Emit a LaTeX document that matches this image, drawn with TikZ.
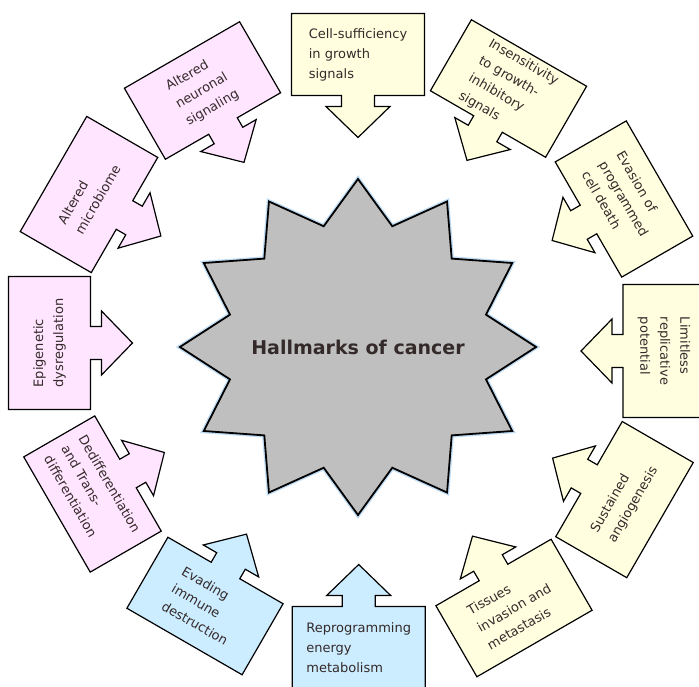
\documentclass[tikz,border=0pt]{standalone}
\usepackage{fontspec}
\setmainfont{DejaVu Sans}
\usepackage{tikz}
\definecolor{cellyellow}{RGB}{255,255,224}
\definecolor{cellpink}{RGB}{255,229,255}
\definecolor{cellblue}{RGB}{204,236,255}
\definecolor{inktext}{RGB}{52,42,42}
\definecolor{glowblue}{RGB}{190,220,245}
\tikzset{
  box line/.style={draw=black, line width=1.2pt, line join=miter},
  label text/.style={align=left, text=inktext, inner sep=0pt, font=\fontsize{13}{20}\selectfont},
  star line/.style={fill=gray!50, draw=black, line width=1.8pt, line join=miter,
                    preaction={draw=glowblue, line width=4.5pt}}
}
% #1 name, #2 centre, #3 turn of the box, #4 fill, #5 turn of the text, #6 text
\newcommand{\hallmark}[6]{%
  \begin{scope}[shift={#2}, rotate=#3]
    \filldraw[fill=#4, box line] (-66.5,41) -- (66.5,41) -- (66.5,-41) -- (16.5,-41) -- (16.5,-52) -- (32,-52) -- (0,-83) -- (-32,-52) -- (-16.5,-52) -- (-16.5,-41) -- (-66.5,-41) -- cycle;
  \end{scope}
  \node[label text, rotate=#5] (#1) at #2 {#6};
}

\begin{document}
\begin{tikzpicture}[x=1pt, y=1pt]
    \fill[white] (-358,-339) rectangle (341,347);
    \useasboundingbox (-358,-339) rectangle (341,347);
    % centre
    \path[star line, xscale=1.06] (90:168) \foreach \k in {0,...,11} { -- ({105+30*\k}:125) -- ({120+30*\k}:168) } -- cycle;
    \node[text=inktext, font=\fontsize{19}{23}\selectfont\bfseries] (hallmarks) at (0,0) {Hallmarks of cancer};
    % upper right
    \hallmark{growth}{(0,292.5)}{0}{cellyellow}{0}{Cell-sufficiency\\in growth\\signals}
    \hallmark{insens}{(150.5,258.5)}{-30}{cellyellow}{-30}{Insensitivity\\to growth-\\inhibitory\\signals}
    \hallmark{apoptosis}{(266,148)}{-60}{cellyellow}{-60}{Evasion of\\programmed\\cell death}
    \hallmark{replic}{(306,-4)}{-90}{cellyellow}{-90}{Limitless\\replicative\\potential}
    % lower right
    \hallmark{angio}{(266.5,-152.6)}{-120}{cellyellow}{60}{Sustained\\angiogenesis}
    \hallmark{invasion}{(156,-261)}{-150}{cellyellow}{30}{Tissues\\invasion and\\metastasis}
    % lower left
    \hallmark{energy}{(0.7,-300.5)}{180}{cellblue}{0}{Reprogramming\\energy\\metabolism}
    \hallmark{immune}{(-153,-259)}{150}{cellblue}{-30}{Evading\\immune\\destruction}
    \hallmark{dediff}{(-265.5,-147)}{120}{cellpink}{-60}{Dedifferentiation\\and Trans-\\differentiation}
    % upper left
    \hallmark{epigen}{(-308.5,4)}{90}{cellpink}{90}{Epigenetic\\dysregulation}
    \hallmark{microb}{(-269,152.5)}{60}{cellpink}{60}{Altered\\microbiome}
    \hallmark{neuro}{(-155.5,256.5)}{30}{cellpink}{30}{Altered\\neuronal\\signaling}
\end{tikzpicture}
\end{document}
